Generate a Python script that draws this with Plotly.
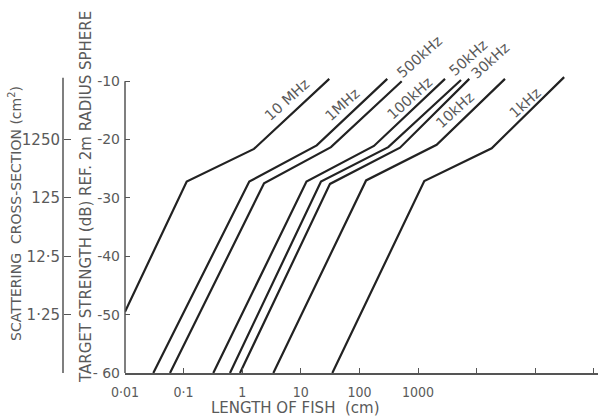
import plotly.graph_objects as go

# ---- data ----
freq_labels = ["10 MHz", "1MHz", "500kHz", "100kHz", "50kHz", "30kHz", "10kHz", "1kHz"]

len_10mhz = [0.01, 0.113, 1.59, 30.6]
ts_10mhz = [-49.5, -27.2, -21.6, -9.6]
len_1mhz = [0.0304, 1.32, 18.7, 299]
ts_1mhz = [-60, -27.2, -21.0, -9.6]
len_500khz = [0.0586, 2.36, 32.7, 527]
ts_500khz = [-60, -27.5, -21.3, -10.0]
len_100khz = [0.321, 12.5, 177, 2890]
ts_100khz = [-60, -27.2, -21.1, -9.6]
len_50khz = [0.619, 22.1, 311, 5420]
ts_50khz = [-60, -27.2, -21.3, -9.8]
len_30khz = [0.917, 31.5, 493, 7500]
ts_30khz = [-60, -27.6, -21.4, -9.6]
len_10khz = [3.40, 130, 2080, 30500]
ts_10khz = [-60, -27.0, -20.9, -9.6]
len_1khz = [34.5, 1280, 18100, 312000]
ts_1khz = [-60, -27.1, -21.5, -9.3]

x_tickvals = [0.01, 0.1, 1, 10, 100, 1000, 1e4, 1e5, 1e6]
x_ticktext = ["0·01", "0·1", "1", "10", "100", "1000", " ", " ", " "]
ts_tickvals = [-60, -50, -40, -30, -20, -10]
ts_ticktext = ["- 60", "-50", "-40", "-30", "-20", "-10"]
cs_tickvals = [-60, -50, -40, -30, -20]
cs_ticktext = [" ", "1·25", "12·5", "125", "1250"]

# label anchor positions (log10 length, dB)
label_pos = [(0.759, -13.2), (1.698, -14.0), (3.02, -5.8), (2.863, -12.8),
             (3.858, -6.1), (4.229, -6.6), (3.631, -14.9), (4.826, -13.7)]

series = [(len_10mhz, ts_10mhz), (len_1mhz, ts_1mhz), (len_500khz, ts_500khz),
          (len_100khz, ts_100khz), (len_50khz, ts_50khz), (len_30khz, ts_30khz),
          (len_10khz, ts_10khz), (len_1khz, ts_1khz)]

FONT = "DejaVu Sans, sans-serif"
FONTC = "DejaVu Sans Condensed, DejaVu Sans, sans-serif"
TXT = "#5a5a5a"
LINE = "#222222"
AX = "#555555"

W, H = 598, 418
T, B = 52, 45
x0px = 125
fig = go.Figure()
for (xs, ys), name in zip(series, freq_labels):
    fig.add_trace(go.Scatter(x=xs, y=ys, mode="lines", name=name,
                             line=dict(color=LINE, width=2.2), showlegend=False))

for (lx, ly), name in zip(label_pos, freq_labels):
    fig.add_annotation(x=lx, y=ly, xref="x", yref="y", text=name, showarrow=False,
                       xanchor="center", yanchor="middle",
                       textangle=-42, font=dict(family=FONT, size=14.5, color=TXT))

xmin = -2
xmax = -2 + (W - x0px) / 58.6

fig.update_layout(
    width=W, height=H,
    margin=dict(l=0, r=0, t=T, b=B, autoexpand=False),
    paper_bgcolor="white", plot_bgcolor="white",
    xaxis=dict(type="log", range=[xmin, xmax], domain=[x0px / W, 1],
               tickvals=x_tickvals, ticktext=x_ticktext, automargin=False,
               ticklabelstandoff=5,
               ticks="inside", ticklen=5, tickwidth=1.2, tickcolor=AX,
               showline=True, linecolor=AX, linewidth=1.5,
               showgrid=False, zeroline=False,
               tickfont=dict(family=FONTC, size=14, color=TXT)),
    yaxis=dict(range=[-60, -5], tickvals=ts_tickvals, ticktext=ts_ticktext,
               automargin=False, ticklabelstandoff=4,
               ticks="inside", ticklen=5, tickwidth=1.2, tickcolor=AX,
               showline=False, showgrid=False, zeroline=False,
               tickfont=dict(family=FONT, size=14, color=TXT)),
    yaxis2=dict(range=[-60, -5], overlaying="y", anchor="free", side="left",
                position=63 / W, tickvals=cs_tickvals, ticktext=cs_ticktext,
                automargin=False, ticklabelstandoff=3,
                ticks="inside", ticklen=7, tickwidth=1.2, tickcolor=AX,
                showline=False, showgrid=False, zeroline=False,
                tickfont=dict(family=FONT, size=15, color=TXT)),
)

# invisible trace to activate secondary axis
fig.add_trace(go.Scatter(x=[0.01], y=[-60], yaxis="y2", mode="markers",
                         marker=dict(opacity=0), showlegend=False, hoverinfo="skip"))

# axis lines (bracket style)
fig.add_shape(type="line", xref="paper", yref="y", x0=x0px / W, x1=x0px / W,
              y0=-60, y1=-10, line=dict(color=AX, width=1.5))
fig.add_shape(type="line", xref="paper", yref="y", x0=63 / W, x1=63 / W,
              y0=-60, y1=-9.4, line=dict(color=AX, width=1.5))

ph = H - T - B
fig.add_annotation(xref="paper", yref="paper", x=86 / W, y=(373 - 197) / ph,
                   xanchor="center", yanchor="middle",
                   text="TARGET STRENGTH (dB) REF. 2m RADIUS SPHERE", textangle=-90,
                   showarrow=False, font=dict(family=FONT, size=15, color=TXT))
fig.add_annotation(xref="paper", yref="paper", x=15 / W, y=(373 - 214) / ph,
                   xanchor="center", yanchor="middle",
                   text="SCATTERING  CROSS-SECTION (cm<sup>2</sup>)", textangle=-90,
                   showarrow=False, font=dict(family=FONT, size=14, color=TXT))
fig.add_annotation(xref="paper", yref="paper", x=295 / W, y=(373 - 408) / ph,
                   xanchor="center", yanchor="middle",
                   text="LENGTH OF FISH  (cm)", showarrow=False,
                   font=dict(family=FONT, size=15, color=TXT))

fig.write_html("out.html")
